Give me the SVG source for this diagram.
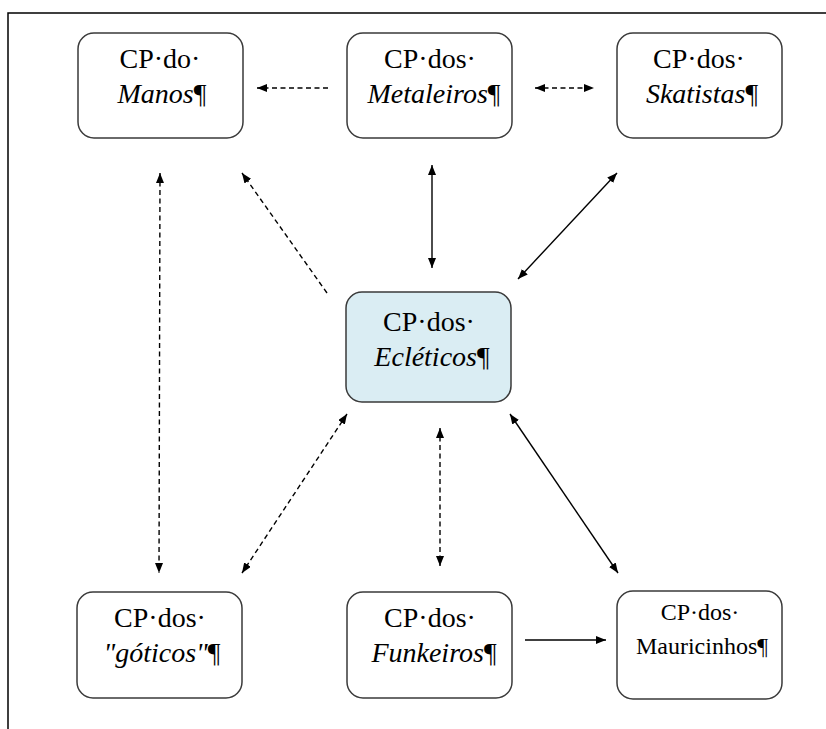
<svg xmlns="http://www.w3.org/2000/svg" width="826" height="729" viewBox="0 0 826 729">
<defs>
<marker id="ah" viewBox="0 0 10 8" refX="10" refY="4" markerWidth="10" markerHeight="8" markerUnits="userSpaceOnUse" orient="auto-start-reverse">
<path d="M0,0 L10,4 L0,8 Z" fill="#000"/>
</marker>
<style>
.box{fill:#fff;stroke:#3a3a3a;stroke-width:1.5}
.hl{fill:#daedf3}
.t{font-family:"Liberation Serif","Times New Roman",serif;font-size:28px;fill:#000;text-anchor:middle}
.i{font-style:italic}
.pm{font-style:normal}
.sm{font-size:24px}
.c{stroke:#000;stroke-width:1.4;fill:none}
.d{stroke-dasharray:5 3.5}
</style>
</defs>
<rect width="826" height="729" fill="#fff"/>
<path d="M8,729 V13 H826" fill="none" stroke="#000" stroke-width="1.5"/>
<g id="connectors">
<line class="c d" x1="328" y1="88" x2="257" y2="88" marker-end="url(#ah)"/>
<line class="c d" x1="535" y1="88" x2="594" y2="88" marker-start="url(#ah)" marker-end="url(#ah)"/>
<line class="c d" x1="160" y1="173" x2="159" y2="573" marker-start="url(#ah)" marker-end="url(#ah)"/>
<line class="c d" x1="327" y1="293" x2="242" y2="173" marker-end="url(#ah)"/>
<line class="c" x1="432" y1="165" x2="432" y2="268" marker-start="url(#ah)" marker-end="url(#ah)"/>
<line class="c" x1="617" y1="173" x2="518" y2="279" marker-start="url(#ah)" marker-end="url(#ah)"/>
<line class="c d" x1="347" y1="414" x2="242" y2="573" marker-start="url(#ah)" marker-end="url(#ah)"/>
<line class="c d" x1="440" y1="428" x2="440" y2="566" marker-start="url(#ah)" marker-end="url(#ah)"/>
<line class="c" x1="510" y1="414" x2="618" y2="573" marker-start="url(#ah)" marker-end="url(#ah)"/>
<line class="c" x1="525" y1="640" x2="606" y2="640" marker-end="url(#ah)"/>
</g>
<g id="manos">
<rect class="box" x="78" y="33" width="165" height="105" rx="16"/>
<text class="t" x="160" y="68">CP·do·</text>
<text class="t i" x="162" y="103">Manos<tspan class="pm">¶</tspan></text>
</g>
<g id="metaleiros">
<rect class="box" x="347" y="33" width="165" height="105" rx="16"/>
<text class="t" x="430" y="68">CP·dos·</text>
<text class="t i" x="434" y="103">Metaleiros<tspan class="pm">¶</tspan></text>
</g>
<g id="skatistas">
<rect class="box" x="617" y="33" width="165" height="105" rx="16"/>
<text class="t" x="699" y="68">CP·dos·</text>
<text class="t i" x="702" y="103">Skatistas<tspan class="pm">¶</tspan></text>
</g>
<g id="ecleticos">
<rect class="box hl" x="346" y="292" width="165" height="110" rx="16"/>
<text class="t" x="429" y="331">CP·dos·</text>
<text class="t i" x="432" y="366">Ecléticos<tspan class="pm">¶</tspan></text>
</g>
<g id="goticos">
<rect class="box" x="77" y="592" width="165" height="106" rx="16"/>
<text class="t" x="160" y="627">CP·dos·</text>
<text class="t i" x="162" y="662">"góticos"<tspan class="pm">¶</tspan></text>
</g>
<g id="funkeiros">
<rect class="box" x="347" y="592" width="165" height="106" rx="16"/>
<text class="t" x="430" y="627">CP·dos·</text>
<text class="t i" x="434" y="662">Funkeiros<tspan class="pm">¶</tspan></text>
</g>
<g id="mauricinhos">
<rect class="box" x="617" y="591" width="165" height="108" rx="16"/>
<text class="t sm" x="700" y="620">CP·dos·</text>
<text class="t sm" x="702" y="654">Mauricinhos¶</text>
</g>
</svg>
